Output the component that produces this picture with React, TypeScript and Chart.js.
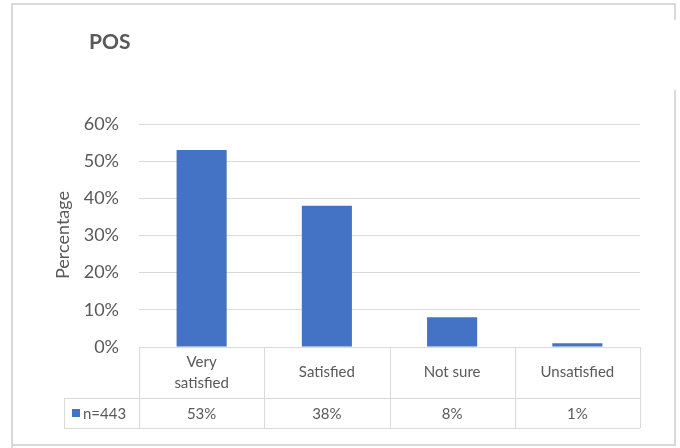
import React, { useEffect, useRef } from "react";
import { Chart, registerables } from "chart.js";

Chart.register(...registerables);

const categories: string[][] = [["Very", "satisfied"], ["Satisfied"], ["Not sure"], ["Unsatisfied"]];
const seriesName = "n=443";
const values = [53, 38, 8, 1];
const yTicks = [0, 10, 20, 30, 40, 50, 60];
const titleText = "POS";
const yTitle = "Percentage";

const BAR = "#4472C4";
const TEXT = "#595959";
const LINE = "#d9d9d9";
const FONT = "Lato, 'Open Sans', sans-serif";

const tablePlugin = {
  id: "dataTable",
  afterDraw(chart: any) {
    const { ctx, chartArea, scales } = chart;
    const x = scales.x;
    const left = chartArea.left;
    const right = chartArea.right;
    const top = chartArea.bottom;
    const mid = top + 51;
    const bottom = mid + 30;
    const legendLeft = 64;
    const n = categories.length;
    const step = (right - left) / n;

    ctx.save();
    // outer frame
    ctx.strokeStyle = LINE;
    ctx.lineWidth = 2;
    ctx.beginPath();
    ctx.moveTo(12, 448);
    ctx.lineTo(12, 4);
    ctx.lineTo(675, 4);
    ctx.lineTo(675, 20);
    ctx.moveTo(675, 90);
    ctx.lineTo(675, 445);
    ctx.lineTo(12, 445);
    ctx.stroke();

    // title
    ctx.fillStyle = TEXT;
    ctx.font = `bold 21px ${FONT}`;
    ctx.textAlign = "left";
    ctx.textBaseline = "middle";
    ctx.fillText(titleText, 89, 42);

    // y axis title
    ctx.save();
    ctx.translate(63, 235);
    ctx.rotate(-Math.PI / 2);
    ctx.font = `18px ${FONT}`;
    ctx.textAlign = "center";
    ctx.fillText(yTitle, 0, 0);
    ctx.restore();

    // table grid
    ctx.strokeStyle = LINE;
    ctx.lineWidth = 1;
    ctx.beginPath();
    ctx.moveTo(left, top + 0.5);
    ctx.lineTo(right, top + 0.5);
    ctx.moveTo(legendLeft, mid + 0.5);
    ctx.lineTo(right, mid + 0.5);
    ctx.moveTo(legendLeft, bottom + 0.5);
    ctx.lineTo(right, bottom + 0.5);
    ctx.moveTo(legendLeft + 0.5, mid);
    ctx.lineTo(legendLeft + 0.5, bottom);
    for (let i = 0; i <= n; i++) {
      const xx = Math.round(left + step * i) + 0.5;
      ctx.moveTo(xx, top);
      ctx.lineTo(xx, bottom);
    }
    ctx.stroke();

    // category labels and values
    ctx.fillStyle = TEXT;
    ctx.textAlign = "center";
    ctx.textBaseline = "middle";
    ctx.font = `15px ${FONT}`;
    categories.forEach((lines, i) => {
      const cx = x.getPixelForValue(i);
      const cy = (top + mid) / 2;
      const lh = 21;
      lines.forEach((ln, j) => {
        ctx.fillText(ln, cx, cy + (j - (lines.length - 1) / 2) * lh);
      });
      ctx.fillText(`${values[i]}%`, cx, (mid + bottom) / 2 + 1);
    });

    // legend key
    ctx.fillStyle = BAR;
    ctx.fillRect(72, (mid + bottom) / 2 - 4, 8, 8);
    ctx.fillStyle = TEXT;
    ctx.textAlign = "left";
    ctx.fillText(seriesName, 83, (mid + bottom) / 2 + 1);
    ctx.restore();
  },
};

export default function App() {
  const ref = useRef<HTMLCanvasElement | null>(null);

  useEffect(() => {
    if (!ref.current) return;
    const chart = new Chart(ref.current, {
      type: "bar",
      data: {
        labels: categories.map((c) => c.join(" ")),
        datasets: [
          {
            label: seriesName,
            data: values,
            backgroundColor: BAR,
            barPercentage: 0.4,
            categoryPercentage: 1,
          },
        ],
      },
      options: {
        animation: false,
        responsive: false,
        maintainAspectRatio: false,
        layout: { padding: { top: 124, bottom: 101, left: 0, right: 40 } },
        plugins: { legend: { display: false }, tooltip: { enabled: false }, title: { display: false } },
        scales: {
          x: { display: false, grid: { display: false } },
          y: {
            min: 0,
            max: 60,
            afterFit: (s: any) => {
              s.width = 139;
            },
            afterBuildTicks: (s: any) => {
              s.ticks = yTicks.map((v) => ({ value: v }));
            },
            border: { display: false },
            grid: { color: LINE, drawTicks: false, lineWidth: 1 },
            ticks: {
              color: TEXT,
              padding: 20,
              font: { family: FONT, size: 18 },
              callback: (v: any) => `${v}%`,
            },
          },
        },
      },
      plugins: [tablePlugin],
    });
    return () => chart.destroy();
  }, []);

  return (
    <div style={{ position: "fixed", left: 0, top: 0, width: 680, height: 448, background: "#fff" }}>
      <canvas ref={ref} width={680} height={448} style={{ display: "block" }} />
    </div>
  );
}
